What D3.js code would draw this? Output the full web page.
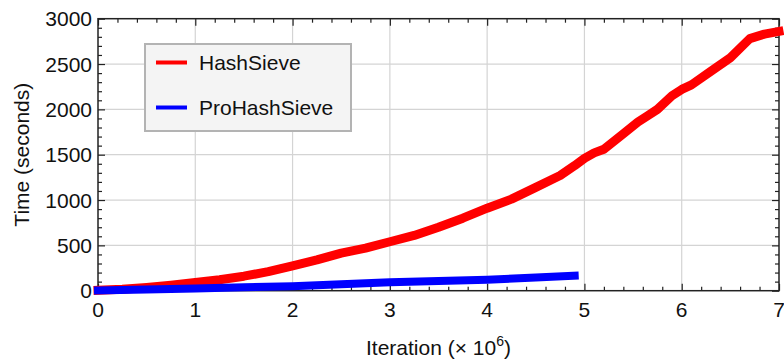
<!DOCTYPE html>
<html>
<head>
<meta charset="utf-8">
<script src="https://cdn.jsdelivr.net/npm/d3@7"></script>
<style>
  body { margin: 0; background: #fff; }
  svg text { font-family: "Liberation Sans", Arial, sans-serif; fill: #111; }
</style>
</head>
<body>
<svg width="784" height="362"></svg>
<script>
// iteration (x 10^6) vs time in seconds
const hashSieve = [
  [0, 5], [0.25, 15], [0.5, 35], [0.75, 60], [1, 90], [1.25, 120], [1.5, 160],
  [1.75, 210], [2, 275], [2.25, 340], [2.5, 415], [2.75, 470], [3, 540],
  [3.25, 610], [3.5, 700], [3.75, 800], [4, 910], [4.25, 1010], [4.5, 1140],
  [4.75, 1270], [4.9, 1380], [5, 1460], [5.1, 1520], [5.2, 1560], [5.4, 1730],
  [5.55, 1860], [5.65, 1930], [5.75, 2000], [5.9, 2150], [6, 2220], [6.1, 2270],
  [6.3, 2420], [6.5, 2570], [6.7, 2780], [6.85, 2830], [7, 2860]
];
const proHashSieve = [
  [0, 3], [0.5, 12], [1, 25], [1.5, 38], [2, 50], [2.5, 70], [3, 92],
  [3.5, 108], [4, 122], [4.5, 145], [4.9, 165]
];
const seriesNames = ['HashSieve', 'ProHashSieve'];
const seriesColors = ['#ff0000', '#0000ff'];
const xTicks = [0, 1, 2, 3, 4, 5, 6, 7];
const yTicks = [0, 500, 1000, 1500, 2000, 2500, 3000];

const svg = d3.select('svg');
const pLeft = 98, pRight = 779, pTop = 18.7, pBottom = 290.7;

const x = d3.scaleLinear().domain([0, 7]).range([pLeft, pRight]);
const y = d3.scaleLinear().domain([0, 3000]).range([pBottom, pTop]);

// grid
const grid = svg.append('g').attr('stroke', '#d4d4d4').attr('stroke-width', 1.2);
grid.selectAll('.gx').data(xTicks.slice(1, -1)).enter().append('line')
  .attr('class', 'gx')
  .attr('x1', d => x(d)).attr('x2', d => x(d))
  .attr('y1', pTop).attr('y2', pBottom);
grid.selectAll('.gy').data(yTicks.slice(1, -1)).enter().append('line')
  .attr('class', 'gy')
  .attr('x1', pLeft).attr('x2', pRight)
  .attr('y1', d => y(d)).attr('y2', d => y(d));

// frame with inward ticks on all four sides
const xMinor = d3.range(0, 7.001, 0.2).filter(v => Math.abs(v - Math.round(v)) > 1e-6);
const yMinor = d3.range(0, 3001, 100).filter(v => v % 500 !== 0);

function frameAxis(axisFn, scale, ticks, minor, tx, ty) {
  const g = svg.append('g').attr('transform', `translate(${tx},${ty})`);
  g.call(axisFn(scale).tickValues(minor).tickSize(-4).tickFormat(''));
  g.append('g').call(axisFn(scale).tickValues(ticks).tickSize(-7).tickFormat(''));
  g.selectAll('path.domain').remove();
  g.selectAll('line').attr('stroke', '#222').attr('stroke-width', 1.2);
  return g;
}
frameAxis(d3.axisBottom, x, xTicks, xMinor, 0, pBottom);
frameAxis(d3.axisTop, x, xTicks, xMinor, 0, pTop);
frameAxis(d3.axisLeft, y, yTicks, yMinor, pLeft, 0);
frameAxis(d3.axisRight, y, yTicks, yMinor, pRight, 0);

svg.append('rect')
  .attr('x', pLeft).attr('y', pTop)
  .attr('width', pRight - pLeft).attr('height', pBottom - pTop)
  .attr('fill', 'none').attr('stroke', '#222').attr('stroke-width', 1.5);

// tick labels
svg.append('g').selectAll('text').data(xTicks).enter().append('text')
  .attr('x', d => x(d)).attr('y', pBottom + 26)
  .attr('text-anchor', 'middle').attr('font-size', 21)
  .text(d => d);
svg.append('g').selectAll('text').data(yTicks).enter().append('text')
  .attr('x', pLeft - 6).attr('y', d => y(d)).attr('dy', '0.36em')
  .attr('text-anchor', 'end').attr('font-size', 21)
  .text(d => d);

// series
const line = d3.line().x(d => x(d[0])).y(d => y(d[1]));
const widths = [9, 8];
[hashSieve, proHashSieve].forEach((data, i) => {
  svg.append('path')
    .datum(data)
    .attr('d', line)
    .attr('fill', 'none')
    .attr('stroke', seriesColors[i])
    .attr('stroke-width', widths[i])
    .attr('stroke-linecap', 'square')
    .attr('stroke-linejoin', 'round');
});

// axis titles
const xt = svg.append('text')
  .attr('x', (pLeft + pRight) / 2).attr('y', 355)
  .attr('text-anchor', 'middle').attr('font-size', 21);
xt.append('tspan').text('Iteration (\u00d7 10');
xt.append('tspan').attr('font-size', 14).attr('dy', -9).text('6');
xt.append('tspan').attr('dy', 9).text(')');

svg.append('text')
  .attr('transform', `translate(29,${(pTop + pBottom) / 2}) rotate(-90)`)
  .attr('text-anchor', 'middle').attr('font-size', 21)
  .text('Time (seconds)');

// legend
const lg = svg.append('g');
lg.append('rect')
  .attr('x', 145).attr('y', 44).attr('width', 206).attr('height', 87)
  .attr('fill', '#f4f4f4').attr('stroke', '#b3b3b3').attr('stroke-width', 2);
seriesNames.forEach((name, i) => {
  const ly = 62.5 + i * 45;
  lg.append('line')
    .attr('x1', 156).attr('x2', 187).attr('y1', ly).attr('y2', ly)
    .attr('stroke', seriesColors[i]).attr('stroke-width', 4);
  lg.append('text')
    .attr('x', 199).attr('y', ly).attr('dy', '0.36em')
    .attr('font-size', 21)
    .text(name);
});
</script>
</body>
</html>
